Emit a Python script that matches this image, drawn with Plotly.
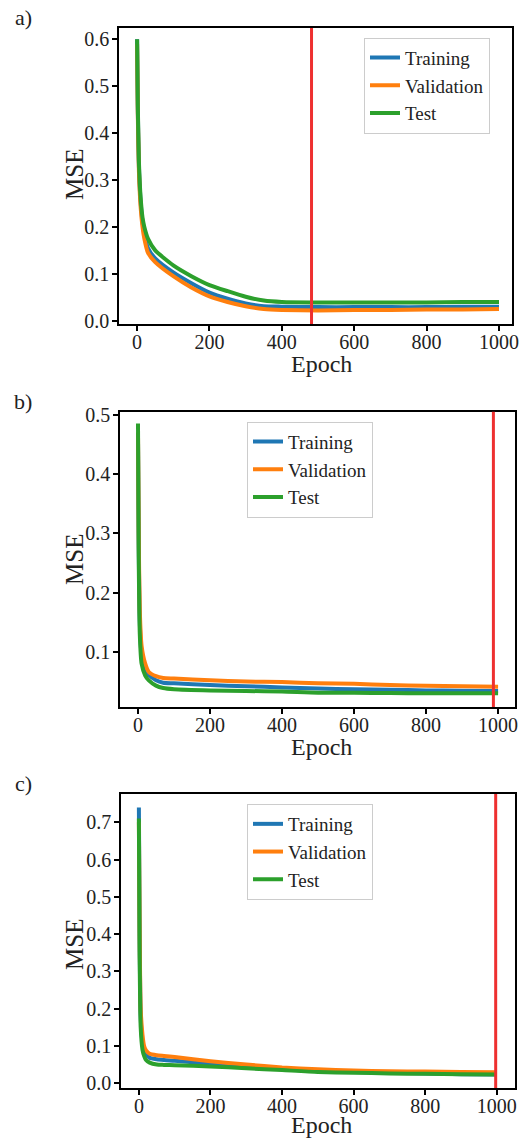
import plotly.graph_objects as go

W, H = 519, 1140

series_names = ["Training", "Validation", "Test"]
series_colors = ["#1f77b4", "#ff7f0e", "#2ca02c"]

# Panel a
epochs_a = [0, 2, 5, 10, 15, 20, 30, 50, 100, 150, 200, 250, 300, 350, 400, 500, 600, 700, 800, 900, 1000]
train_a = [0.60, 0.45, 0.33, 0.25, 0.21, 0.185, 0.155, 0.133, 0.103, 0.080, 0.060, 0.047, 0.037, 0.031, 0.030, 0.029, 0.029, 0.029, 0.029, 0.030, 0.030]
val_a = [0.59, 0.44, 0.32, 0.24, 0.20, 0.175, 0.145, 0.125, 0.095, 0.071, 0.052, 0.040, 0.031, 0.025, 0.023, 0.022, 0.023, 0.023, 0.024, 0.024, 0.025]
test_a = [0.60, 0.46, 0.34, 0.26, 0.22, 0.200, 0.175, 0.150, 0.118, 0.095, 0.076, 0.063, 0.051, 0.043, 0.040, 0.039, 0.039, 0.039, 0.039, 0.040, 0.040]
stop_a = 482

# Panel b
epochs_b = [0, 2, 5, 10, 20, 30, 50, 70, 100, 200, 300, 400, 500, 600, 700, 800, 900, 1000]
train_b = [0.46, 0.28, 0.15, 0.095, 0.070, 0.061, 0.052, 0.048, 0.047, 0.044, 0.042, 0.040, 0.038, 0.037, 0.036, 0.035, 0.0345, 0.034]
val_b = [0.47, 0.30, 0.17, 0.110, 0.080, 0.066, 0.059, 0.056, 0.055, 0.052, 0.050, 0.049, 0.047, 0.046, 0.044, 0.043, 0.042, 0.041]
test_b = [0.485, 0.26, 0.13, 0.080, 0.060, 0.052, 0.043, 0.039, 0.037, 0.035, 0.034, 0.033, 0.031, 0.031, 0.0305, 0.030, 0.030, 0.030]
stop_b = 987

# Panel c
epochs_c = [0, 2, 5, 10, 15, 20, 30, 50, 70, 100, 200, 300, 400, 500, 600, 700, 800, 900, 1000]
train_c = [0.74, 0.40, 0.18, 0.110, 0.088, 0.078, 0.068, 0.064, 0.062, 0.060, 0.052, 0.044, 0.037, 0.033, 0.030, 0.028, 0.026, 0.024, 0.023]
val_c = [0.70, 0.42, 0.20, 0.130, 0.098, 0.088, 0.079, 0.075, 0.073, 0.070, 0.059, 0.050, 0.042, 0.037, 0.034, 0.032, 0.031, 0.030, 0.029]
test_c = [0.71, 0.35, 0.15, 0.090, 0.072, 0.062, 0.055, 0.050, 0.049, 0.048, 0.045, 0.040, 0.035, 0.030, 0.028, 0.026, 0.025, 0.024, 0.023]
stop_c = 997

x_ticks = [0, 200, 400, 600, 800, 1000]
y_ticks_a = [0.0, 0.1, 0.2, 0.3, 0.4, 0.5, 0.6]
y_ticks_b = [0.1, 0.2, 0.3, 0.4, 0.5]
y_ticks_c = [0.0, 0.1, 0.2, 0.3, 0.4, 0.5, 0.6, 0.7]
panel_labels = ["a)", "b)", "c)"]

FONT = "Liberation Serif, Times New Roman, DejaVu Serif, serif"
TXT = "#222222"


def px_x(v):
    return v / W


def px_y(v):
    return 1 - v / H


panels = [
    dict(ep=epochs_a, ys=[train_a, val_a, test_a], stop=stop_a, yt=y_ticks_a,
         xr=[-50, 1036], yr=[-0.007, 0.624], box=(119, 28, 512, 324),
         leg=(364, 37.7), lab=(23, 17), msey=175, epy=364),
    dict(ep=epochs_b, ys=[train_b, val_b, test_b], stop=stop_b, yt=y_ticks_b,
         xr=[-50, 1047], yr=[0.007, 0.505], box=(120, 411.7, 515, 707),
         leg=(247, 421.7), lab=(23, 401), msey=560, epy=747),
    dict(ep=epochs_c, ys=[train_c, val_c, test_c], stop=stop_c, yt=y_ticks_c,
         xr=[-50, 1051], yr=[-0.013, 0.776], box=(121, 794, 515, 1088),
         leg=(247, 804), lab=(23, 783), msey=945, epy=1125),
]

fig = go.Figure()
layout = dict(
    width=W, height=H, margin=dict(l=0, r=0, t=0, b=0, pad=0),
    autosize=False,
    paper_bgcolor="white", plot_bgcolor="white",
    font=dict(family=FONT, color=TXT, size=20),
    annotations=[], shapes=[],
)

for i, p in enumerate(panels):
    k = "" if i == 0 else str(i + 1)
    xa, ya = "x" + k, "y" + k
    leg = "legend" + k
    for name, col, yv in zip(series_names, series_colors, p["ys"]):
        fig.add_trace(go.Scatter(
            x=p["ep"], y=yv, mode="lines", name=name,
            line=dict(color=col, width=4, shape="spline", smoothing=0.6),
            xaxis=xa, yaxis=ya, legend=leg, showlegend=True,
        ))
    l, t, r, b = p["box"]
    axis_common = dict(showline=True, mirror=True, linecolor="black", linewidth=1.5,
                       ticks="outside", ticklen=5, tickwidth=1.5, tickcolor="black",
                       showgrid=False, zeroline=False, automargin=False,
                       ticklabeloverflow="allow",
                       tickfont=dict(family=FONT, size=20, color=TXT))
    layout["xaxis" + k] = dict(domain=[px_x(l), px_x(r)], range=p["xr"],
                               anchor=ya, tickvals=x_ticks, ticklabelstandoff=-6,
                               **axis_common)
    layout["yaxis" + k] = dict(domain=[px_y(b), px_y(t)], range=p["yr"],
                               anchor=xa, tickvals=p["yt"], tickformat=".1f",
                               ticklabelstandoff=-1, **axis_common)
    layout["shapes"].append(dict(type="line", xref=xa, yref=ya + " domain",
                                 x0=p["stop"], x1=p["stop"], y0=0, y1=1,
                                 line=dict(color="#ee3030", width=3), layer="above"))
    lx, ly = p["leg"]
    layout[leg] = dict(x=px_x(lx), y=px_y(ly), xanchor="left", yanchor="top",
                       bgcolor="white", bordercolor="#cccccc", borderwidth=1,
                       font=dict(family=FONT, size=19, color=TXT),
                       itemwidth=30, tracegroupgap=0)
    layout["annotations"].append(dict(text=panel_labels[i], x=px_x(p["lab"][0]), y=px_y(p["lab"][1]),
                                      xref="paper", yref="paper", showarrow=False,
                                      xanchor="center", yanchor="middle",
                                      font=dict(family=FONT, size=22, color=TXT)))
    layout["annotations"].append(dict(text="MSE", x=px_x(74), y=px_y(p["msey"]),
                                      xref="paper", yref="paper", showarrow=False,
                                      textangle=-90, xanchor="center", yanchor="middle",
                                      font=dict(family=FONT, size=25, color=TXT)))
    layout["annotations"].append(dict(text="Epoch", x=px_x(321), y=px_y(p["epy"]),
                                      xref="paper", yref="paper", showarrow=False,
                                      xanchor="center", yanchor="middle",
                                      font=dict(family=FONT, size=24, color=TXT)))

fig.update_layout(**layout)
fig.write_html("out.html")
